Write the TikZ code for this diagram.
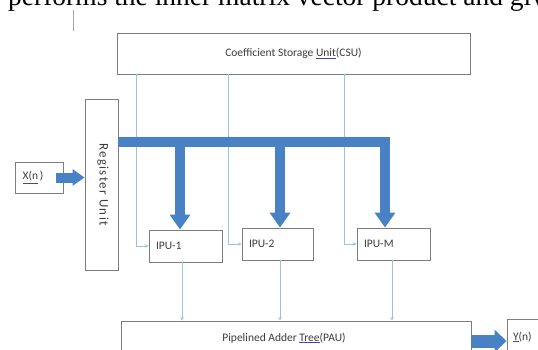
\documentclass[tikz,border=0pt]{standalone}
\usepackage{fontspec}
\setmainfont{Carlito}
\newfontfamily\serifcut{Liberation Serif}
\usetikzlibrary{arrows.meta}
\definecolor{bus}{RGB}{72,130,196}
\definecolor{thin}{RGB}{160,192,225}
\definecolor{edge}{RGB}{125,125,125}
\definecolor{txt}{RGB}{60,60,60}
\definecolor{ulblue}{RGB}{60,70,185}
\newcommand\blueul[1]{\textcolor{ulblue}{\underline{\textcolor{txt}{#1}}}}
\begin{document}
\begin{tikzpicture}[x=1pt,y=-1pt,
  box/.style={draw=edge,line width=0.9pt,fill=white,text=txt,font=\fontsize{11.5}{13}\selectfont,inner sep=0pt},
  ipu/.style={box,minimum height=32pt,inner xsep=7pt,align=left},
  fat/.style={draw=bus,line width=10pt,line join=miter,-{Triangle[width=20pt,length=15pt]}},
  thinarrow/.style={draw=thin,line width=0.6pt,-{Stealth[length=3.5pt,width=3.5pt]}},
]
\useasboundingbox (0,0) rectangle (538,350);
\clip (0,0) rectangle (538,350);

% cropped caption line of the page above the figure
\node[anchor=base west,font=\serifcut\fontsize{27.5}{31}\selectfont,inner sep=0pt] (caption) at (8,6) {performs the inner matrix vector product and giv};
\coordinate (c1) at (73,10);
\coordinate (c2) at (73,31);
\draw[gray!70,line width=0.8pt] (c1) -- (c2);

% boxes
\node[box,minimum width=353pt,minimum height=41pt] (csu) at (293.5,53.5) {Coefficient Storage \blueul{Unit}(CSU)};
\node[box,minimum width=33pt,minimum height=171pt] (reg) at (101.5,184.5) {\hspace*{3pt}\rotatebox{-90}{\fontsize{13}{15}\selectfont\addfontfeature{LetterSpace=10}Register Unit}};
\node[box,minimum width=48pt,minimum height=31pt] (xn) at (39,177.5) {\blueul{X(n}\,)\hspace*{12pt}};
\node[ipu,text width=59pt] (ipu1) at (185.5,246) {IPU-1};
\node[ipu,text width=57pt] (ipu2) at (277.5,244) {IPU-2};
\node[ipu,text width=59pt] (ipum) at (393.5,244) {IPU-M};
\node[box,minimum width=350pt,minimum height=34pt] (pau) at (296,338) {Pipelined Adder \blueul{Tree}(PAU)\hspace*{24pt}};
\node[box,minimum height=36pt,inner xsep=6pt,text width=31pt,align=left] (yn) at (528.5,337) {\blueul{Y}(n)};

% thin coefficient lines
\coordinate (t1) at (136,0);
\coordinate (t2) at (228,0);
\coordinate (t3) at (344,0);
\draw[thinarrow] (csu.south -| t1) |- (ipu1.west);
\draw[thinarrow] (csu.south -| t2) |- (ipu2.west);
\draw[thinarrow] (csu.south -| t3) |- (ipum.west);

% thin outputs to adder tree
\coordinate (d1) at (182,0);
\coordinate (d2) at (280,0);
\coordinate (d3) at (392,0);
\draw[thinarrow] (ipu1.south -| d1) -- (pau.north -| d1);
\draw[thinarrow] (ipu2.south -| d2) -- (pau.north -| d2);
\draw[thinarrow] (ipum.south -| d3) -- (pau.north -| d3);

% bus
\coordinate (b1) at (180,142);
\coordinate (b2) at (280,142);
\coordinate (b3) at (385,142);
\draw[fat] (reg.east |- b1) -- (b3) -- (b3 |- ipum.north);
\draw[fat] (b1) -- (b1 |- ipu1.north);
\draw[fat] (b2) -- (b2 |- ipu2.north);

% input and output arrows
\draw[draw=bus,line width=10pt,-{Triangle[width=16pt,length=12pt]}] ([xshift=-7pt]xn.east) -- (xn.east -| reg.west);
\draw[draw=bus,line width=13pt,-{Triangle[width=22pt,length=12pt]}] ([yshift=-3pt]pau.east) -- ([yshift=-3pt]pau.east -| yn.west);
\end{tikzpicture}
\end{document}
